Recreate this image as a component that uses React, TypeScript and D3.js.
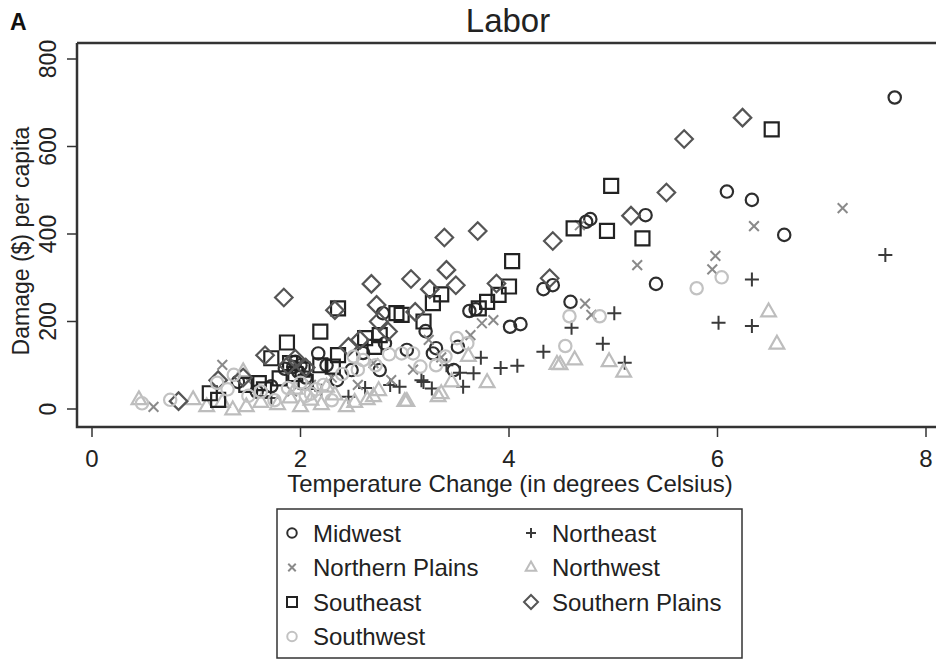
import React, { useEffect, useRef } from "react";
import * as d3 from "d3";

// [temperature change, damage per capita]
const midwest: [number, number][] = [
  [7.70, 712], [6.09, 497], [6.33, 478], [6.64, 398], [5.41, 286], [5.31, 443], [4.78, 434], [4.74, 428],
  [4.59, 245], [4.33, 274], [4.42, 283], [3.62, 224], [3.68, 228], [4.01, 188], [4.11, 194], [3.30, 139],
  [3.27, 127], [3.51, 142], [3.47, 89], [2.76, 89], [2.79, 219], [2.17, 127], [2.35, 66], [2.49, 89],
  [2.81, 150], [1.95, 108], [1.85, 92], [2.05, 72], [1.72, 52], [1.58, 40], [2.60, 128], [3.02, 135],
  [3.20, 178], [1.40, 62], [2.25, 100], [1.93, 96], [2.00, 100], [1.98, 85],
];
const northeast: [number, number][] = [
  [7.61, 352], [6.33, 296], [6.01, 197], [6.33, 190], [5.01, 219], [4.60, 186], [4.90, 149], [5.11, 106],
  [4.33, 131], [3.92, 94], [4.08, 99], [3.73, 117], [3.66, 82], [3.53, 83], [3.56, 51], [3.18, 62],
  [3.16, 66], [3.26, 47], [2.95, 51], [2.46, 28], [2.20, 42], [2.62, 48], [1.72, 25], [3.40, 100], [2.86, 55],
];
const northernPlains: [number, number][] = [
  [7.20, 459], [6.35, 418], [5.98, 350], [5.95, 319], [5.23, 329], [4.73, 241], [4.79, 215], [4.68, 420],
  [3.85, 203], [3.74, 196], [3.63, 169], [3.23, 158], [2.87, 66], [1.25, 101], [0.59, 5], [1.50, 65],
  [1.92, 40], [2.10, 55], [2.30, 72], [2.55, 55], [3.35, 118], [2.70, 105], [3.08, 90],
];
const northwest: [number, number][] = [
  [0.45, 21], [0.97, 21], [1.10, 5], [1.35, -2], [1.48, 5], [1.45, 85], [1.25, 15], [1.62, 15], [1.78, 10],
  [1.90, 25], [2.00, 5], [2.10, 20], [2.20, 10], [2.33, 32], [2.44, 5], [2.52, 15], [2.64, 21], [2.70, 28],
  [2.75, 42], [3.00, 17], [3.02, 17], [3.32, 28], [3.35, 35], [3.45, 62], [3.61, 120], [3.79, 60],
  [4.46, 102], [4.49, 101], [4.63, 112], [4.96, 108], [5.10, 84], [6.49, 222], [6.57, 148], [1.95, 45], [2.25, 50],
];
const southeast: [number, number][] = [
  [6.52, 639], [4.98, 510], [4.62, 413], [4.94, 407], [5.28, 390], [4.03, 338], [4.00, 280], [3.90, 261],
  [3.79, 245], [3.71, 230], [3.35, 262], [3.27, 242], [2.97, 215], [3.18, 200], [2.92, 219], [2.76, 169],
  [2.62, 162], [2.71, 142], [2.36, 230], [2.19, 177], [1.87, 152], [1.72, 116], [2.19, 100], [2.31, 97],
  [1.13, 36], [1.21, 21], [1.48, 55], [1.60, 59], [1.95, 80], [2.05, 62], [1.80, 70], [1.65, 45], [2.36, 123],
  [1.90, 105], [2.02, 90],
];
const southernPlains: [number, number][] = [
  [6.24, 666], [5.68, 617], [5.51, 495], [5.17, 442], [4.42, 384], [4.39, 299], [3.88, 287], [3.70, 407],
  [3.38, 392], [3.40, 318], [3.49, 283], [3.24, 274], [3.06, 297], [3.10, 222], [2.84, 177], [2.75, 200],
  [2.73, 238], [2.68, 286], [2.57, 158], [2.46, 142], [2.33, 226], [1.84, 255], [1.66, 123], [1.21, 66],
  [0.83, 18], [1.95, 115], [2.05, 95], [1.45, 72], [1.88, 100],
];
const southwest: [number, number][] = [
  [0.48, 13], [0.75, 21], [1.36, 78], [1.30, 45], [1.50, 30], [1.62, 40], [1.75, 20], [1.88, 48], [2.00, 60],
  [2.10, 35], [2.22, 55], [2.40, 80], [2.51, 120], [2.60, 112], [2.72, 100], [2.85, 125], [2.97, 127],
  [3.08, 127], [3.15, 97], [3.39, 120], [3.50, 162], [3.30, 100], [4.54, 144], [4.58, 212], [4.87, 212],
  [5.80, 276], [6.04, 301], [1.20, 60], [2.30, 20], [2.55, 90], [3.60, 150], [2.05, 30], [2.15, 45],
];

const xTicks = [0, 2, 4, 6, 8];
const yTicks = [0, 200, 400, 600, 800];

const series = [
  { name: "Midwest", data: midwest, shape: "circle", color: "#2e2e2e" },
  { name: "Northeast", data: northeast, shape: "plus", color: "#3a3a3a" },
  { name: "Northern Plains", data: northernPlains, shape: "times", color: "#8a8a8a" },
  { name: "Northwest", data: northwest, shape: "triangle", color: "#bdbdbd" },
  { name: "Southeast", data: southeast, shape: "square", color: "#222" },
  { name: "Southern Plains", data: southernPlains, shape: "diamond", color: "#555" },
  { name: "Southwest", data: southwest, shape: "circle", color: "#c2c2c2" },
];

function markPath(shape: string, s: number) {
  const p = d3.path();
  if (shape === "circle") {
    p.arc(0, 0, s * 0.95, 0, Math.PI * 2);
  } else if (shape === "square") {
    p.rect(-s, -s, 2 * s, 2 * s);
  } else if (shape === "diamond") {
    const h = s * 1.25;
    p.moveTo(0, -h); p.lineTo(h, 0); p.lineTo(0, h); p.lineTo(-h, 0); p.closePath();
  } else if (shape === "triangle") {
    const w = s * 1.05;
    p.moveTo(0, -w * 1.15); p.lineTo(w, w * 0.6); p.lineTo(-w, w * 0.6); p.closePath();
  } else if (shape === "plus") {
    p.moveTo(-s, 0); p.lineTo(s, 0); p.moveTo(0, -s); p.lineTo(0, s);
  } else {
    const h = s * 0.75;
    p.moveTo(-h, -h); p.lineTo(h, h); p.moveTo(-h, h); p.lineTo(h, -h);
  }
  return p.toString();
}

export default function App() {
  const ref = useRef<SVGSVGElement>(null);

  useEffect(() => {
    const width = 938, height = 660;
    const svg = d3.select(ref.current);
    svg.selectAll("*").remove();
    const font = "'Liberation Sans', Arial, sans-serif";
    const ink = "#222";

    const x = d3.scaleLinear().domain([0, 8]).range([92, 926]);
    const y = d3.scaleLinear().domain([0, 800]).range([409, 59]);
    const frame = { l: 77, r: 936, t: 43, b: 427 };

    svg.append("rect").attr("width", width).attr("height", height).attr("fill", "#fff");

    svg.append("text").text("A").attr("x", 10).attr("y", 30)
      .attr("font-family", font).attr("font-weight", "bold").attr("font-size", 23).attr("fill", "#111");
    svg.append("text").text("Labor").attr("x", 508).attr("y", 32).attr("text-anchor", "middle")
      .attr("font-family", font).attr("font-size", 33).attr("fill", ink);

    // marks
    const g = svg.append("g");
    series.forEach(s => {
      g.selectAll(null).data(s.data).enter().append("path")
        .attr("transform", d => `translate(${x(d[0])},${y(d[1])})`)
        .attr("d", markPath(s.shape, s.shape === "circle" ? 6.5 : s.shape === "times" ? 6.5 : 7))
        .attr("fill", "none").attr("stroke", s.color)
        .attr("stroke-width", s.shape === "plus" || s.shape === "times" ? 2 : 2.2);
    });

    // frame
    svg.append("path")
      .attr("d", `M${frame.l},${frame.t}H${frame.r}M${frame.l},${frame.t}V${frame.b}H${frame.r}`)
      .attr("fill", "none").attr("stroke", "#333").attr("stroke-width", 2.5);

    // y axis
    const ya = svg.append("g");
    ya.selectAll("line").data(yTicks).enter().append("line")
      .attr("x1", frame.l - 10).attr("x2", frame.l).attr("y1", d => y(d)).attr("y2", d => y(d))
      .attr("stroke", "#333").attr("stroke-width", 1.5);
    ya.selectAll("text").data(yTicks).enter().append("text")
      .attr("transform", d => `translate(56,${y(d)}) rotate(-90)`)
      .attr("text-anchor", "middle").attr("font-family", font).attr("font-size", 23).attr("fill", ink)
      .text(d => d);
    svg.append("text").text("Damage ($) per capita")
      .attr("transform", "translate(29,241) rotate(-90)")
      .attr("text-anchor", "middle").attr("font-family", font).attr("font-size", 23).attr("fill", ink);

    // x axis
    const xa = svg.append("g");
    xa.selectAll("line").data(xTicks).enter().append("line")
      .attr("y1", frame.b).attr("y2", frame.b + 10).attr("x1", d => x(d)).attr("x2", d => x(d))
      .attr("stroke", "#333").attr("stroke-width", 1.5);
    xa.selectAll("text").data(xTicks).enter().append("text")
      .attr("x", d => x(d)).attr("y", 467)
      .attr("text-anchor", "middle").attr("font-family", font).attr("font-size", 24).attr("fill", ink)
      .text(d => d);
    svg.append("text").text("Temperature Change (in degrees Celsius)")
      .attr("x", 510).attr("y", 492).attr("text-anchor", "middle")
      .attr("font-family", font).attr("font-size", 24).attr("fill", ink);

    // legend
    svg.append("rect").attr("x", 277).attr("y", 509).attr("width", 465).attr("height", 149)
      .attr("fill", "#fff").attr("stroke", "#333").attr("stroke-width", 1.5);
    const lg = svg.append("g");
    series.forEach((s, i) => {
      const col = i % 2, row = Math.floor(i / 2);
      const cx = col === 0 ? 292 : 531;
      const cy = 533 + row * 34.5;
      lg.append("path").attr("transform", `translate(${cx},${cy})`)
        .attr("d", markPath(s.shape, s.shape === "diamond" ? 5.6 : 5))
        .attr("fill", "none").attr("stroke", s.color).attr("stroke-width", 2);
      lg.append("text").text(s.name).attr("x", cx + 21).attr("y", cy + 8.5)
        .attr("font-family", font).attr("font-size", 24).attr("fill", ink);
    });
  }, []);

  return (
    <svg ref={ref} width={938} height={660}
      style={{ position: "absolute", left: 0, top: 0, display: "block" }} />
  );
}
